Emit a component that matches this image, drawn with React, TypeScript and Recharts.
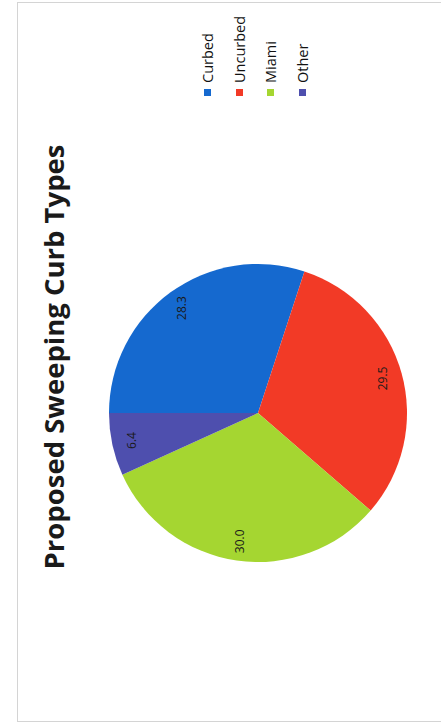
import React from "react";
import { PieChart, Pie, Cell, Legend } from "recharts";

const categories = ["Curbed", "Uncurbed", "Miami", "Other"];
const values = [28.3, 29.5, 30.0, 6.4];
const colors = ["#1569cf", "#f23a26", "#a5d631", "#4e4fae"];
const title = "Proposed Sweeping Curb Types";

const data = categories.map((name, i) => ({ name, value: values[i] }));

const RAD = Math.PI / 180;

const renderLabel = (props: any) => {
  const { cx, cy, midAngle, outerRadius, value } = props;
  const r = outerRadius * 0.87;
  const x = cx + r * Math.cos(-midAngle * RAD);
  const y = cy + r * Math.sin(-midAngle * RAD);
  return (
    <text
      x={x}
      y={y}
      fill="#1a1a1a"
      fontSize={12}
      fontFamily="'Open Sans', sans-serif"
      textAnchor="middle"
      dominantBaseline="central"
    >
      {Number(value).toFixed(1)}
    </text>
  );
};

const renderLegend = () => (
  <div style={{ fontFamily: "'Open Sans', sans-serif", fontSize: 14.5, color: "#111" }}>
    {categories.map((name, i) => (
      <div key={name} style={{ height: 31.5, display: "flex", alignItems: "center" }}>
        <span
          style={{
            display: "inline-block",
            width: 7,
            height: 7,
            background: colors[i],
            marginRight: 6,
          }}
        />
        <span>{name}</span>
      </div>
    ))}
  </div>
);

export default function App() {
  return (
    <div
      style={{
        position: "absolute",
        left: 0,
        top: 0,
        width: 441,
        height: 725,
        overflow: "hidden",
        background: "#fff",
      }}
    >
      <div
        style={{
          position: "absolute",
          left: 0,
          top: 0,
          width: 725,
          height: 441,
          transformOrigin: "0 0",
          transform: "translate(0px, 725px) rotate(-90deg)",
        }}
      >
        <div
          style={{
            position: "absolute",
            left: 3,
            top: 17,
            width: 720,
            height: 440,
            border: "1px solid #d4d4d4",
            boxSizing: "border-box",
          }}
        />
        <div
          style={{
            position: "absolute",
            left: 118,
            top: 35,
            width: 500,
            textAlign: "center",
            fontFamily: "'Open Sans', sans-serif",
            fontWeight: 700,
            fontSize: 27.5,
            lineHeight: "38px",
            color: "#1a1a1a",
            whiteSpace: "nowrap",
          }}
        >
          {title}
        </div>
        <div style={{ position: "absolute", left: 0, top: 0 }}>
          <PieChart width={725} height={441} margin={{ top: 0, right: 0, bottom: 0, left: 0 }}>
            <Pie
              data={data}
              dataKey="value"
              nameKey="name"
              cx={312}
              cy={258}
              outerRadius={149}
              startAngle={90}
              endAngle={-270}
              stroke="none"
              label={renderLabel}
              labelLine={false}
              isAnimationActive={false}
            >
              {data.map((d, i) => (
                <Cell key={d.name} fill={colors[i]} />
              ))}
            </Pie>
            <Legend
              layout="vertical"
              verticalAlign="top"
              align="right"
              content={renderLegend}
              wrapperStyle={{ position: "absolute", left: 629, top: 192, width: 95 }}
            />
          </PieChart>
        </div>
      </div>
    </div>
  );
}
